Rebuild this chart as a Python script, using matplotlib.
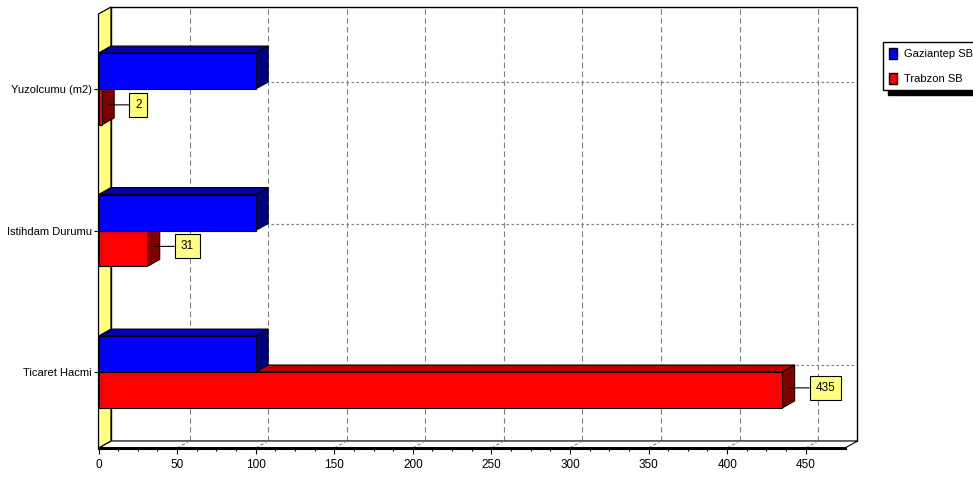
import numpy as np
import matplotlib.pyplot as plt
from matplotlib.patches import Polygon, Patch
from matplotlib.ticker import FixedLocator

categories = ['Ticaret Hacmi', 'Istihdam Durumu', 'Yuzolcumu (m2)']
gaziantep = [100, 100, 100]
trabzon = [435, 31, 2]
series_names = ['Gaziantep SB', 'Trabzon SB']
x_ticks = [0, 50, 100, 150, 200, 250, 300, 350, 400, 450]

plt.rcParams['font.family'] = ['Liberation Sans', 'DejaVu Sans']
FS = 8

# face colours: front, top, side
BLUE = ('#0000ff', '#0000b0', '#000080')
RED = ('#ff0000', '#c00000', '#800000')

fig = plt.figure(figsize=(9.73, 4.80), dpi=100)
ax = fig.add_axes([98.5 / 973, 32 / 480, (845 - 98.5) / 973, (448 - 14) / 480])
XMAX = 475
ax.set_xlim(0, XMAX)
ax.set_ylim(-0.537, 2.53)
y0, y1 = ax.get_ylim()
pos = np.arange(len(categories))
h = 0.254


def depth(px_x, px_y):
    # pixel depth of the pseudo-3d view, as data units
    inv = ax.transData.inverted()
    ox, oy = ax.transData.transform((0, 0))
    return inv.transform((ox + px_x, oy + px_y))


dx, dy = depth(12.5, 7)

# back wall
ax.add_patch(Polygon([(dx, y0 + dy), (XMAX + dx, y0 + dy), (XMAX + dx, y1 + dy), (dx, y1 + dy)],
                     closed=True, fc='white', ec='black', lw=1.0, zorder=0.2, clip_on=False))
for x in x_ticks[1:]:
    ax.plot([x + dx, x + dx], [y0 + dy, y1 + dy], color='#808080', lw=0.8,
            ls=(0, (5, 3)), zorder=0.4, clip_on=False)
    # short piece of the grid running over the floor
    ax.plot([x, x + dx], [y0, y0 + dy], color='#808080', lw=0.8,
            ls=(0, (3, 2)), zorder=0.6, clip_on=False)
for c in pos:
    ax.plot([dx, XMAX + dx], [c + dy, c + dy], color='#808080', lw=0.9,
            ls=(0, (2, 2)), zorder=0.4, clip_on=False)

# floor and left wall
ax.add_patch(Polygon([(0, y0), (XMAX, y0), (XMAX + dx, y0 + dy), (dx, y0 + dy)],
                     closed=True, fc='white', ec='black', lw=0.8, zorder=0.5, clip_on=False))
ax.add_patch(Polygon([(0, y0), (dx, y0 + dy), (dx, y1 + dy), (0, y1)],
                     closed=True, fc='#ffff80', ec='black', lw=0.9, zorder=0.7, clip_on=False))


def bar3d(v, yb, yt, cols, z):
    front, top, side = cols
    ax.add_patch(Polygon([(0, yt), (v, yt), (v + dx, yt + dy), (dx, yt + dy)],
                         closed=True, fc=top, ec='black', lw=0.8, zorder=z))
    ax.add_patch(Polygon([(v, yb), (v, yt), (v + dx, yt + dy), (v + dx, yb + dy)],
                         closed=True, fc=side, ec='black', lw=0.8, zorder=z))
    ax.barh((yb + yt) / 2, v, height=yt - yb, left=0, color=front,
            edgecolor='black', lw=0.8, zorder=z + 0.1)


z = 2
for i, c in enumerate(pos):
    bar3d(trabzon[i], c - h, c, RED, z)
    bar3d(gaziantep[i], c, c + h, BLUE, z + 1)
    z += 2

for i, c in enumerate(pos):
    v = trabzon[i]
    ax.annotate(str(v), xy=(v + dx / 2, c - h / 2 + dy * 0.3), xytext=(19.5, 0),
                textcoords='offset points', ha='left', va='center', fontsize=FS + 0.5,
                bbox=dict(boxstyle='square,pad=0.5', fc='#ffff80', ec='black', lw=0.8),
                arrowprops=dict(arrowstyle='-', color='black', lw=0.8, shrinkA=0, shrinkB=0),
                zorder=20)

for s in ['top', 'right', 'left']:
    ax.spines[s].set_visible(False)
ax.spines['bottom'].set_linewidth(2.2)
ax.spines['bottom'].set_zorder(15)

ax.set_xticks(x_ticks)
ax.xaxis.set_minor_locator(FixedLocator(np.arange(0, 450.1, 12.5)))
ax.tick_params(axis='x', which='major', length=4.5, width=0.8, pad=3.5, labelsize=FS + 0.5)
ax.tick_params(axis='x', which='minor', length=2.5, width=0.8)
ax.set_yticks(pos, categories)
ax.tick_params(axis='y', length=3.5, width=0.8, pad=1.5, labelsize=FS)
ax.patch.set_visible(False)

fig.legend(handles=[Patch(fc=BLUE[0], ec='black'), Patch(fc=RED[0], ec='black')],
           labels=series_names, loc='upper left', bbox_to_anchor=(883 / 973, 1 - 42 / 480),
           frameon=True, fancybox=False, edgecolor='black', framealpha=1,
           shadow={'ox': 3.6, 'oy': -3.6, 'color': 'black', 'alpha': 1}, fontsize=FS,
           handlelength=0.72, handleheight=1.17, handletextpad=0.6,
           labelspacing=1.2, borderpad=0.55, borderaxespad=0)

fig.savefig('out.png', dpi=100)
